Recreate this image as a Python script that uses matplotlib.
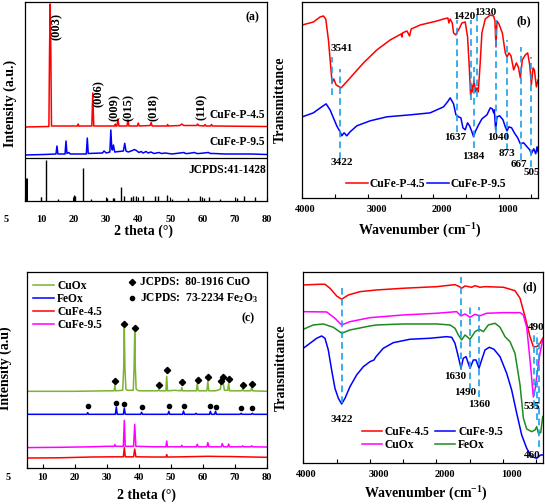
import matplotlib
matplotlib.use('Agg')
import matplotlib.pyplot as plt
from matplotlib.transforms import ScaledTranslation

# ---- panel (a): XRD of the two precursors + reference sticks
xrd45_x = [5, 12.4, 12.6, 12.8, 13.0, 13.2, 21.3, 21.5, 21.7, 25.7, 26.0, 26.3, 32.8, 33.0, 33.2,
           33.5, 33.8, 34.1, 36.6, 36.9, 37.2, 39.8, 40.1, 40.4, 43.8, 44.1, 44.4, 49.0, 49.2, 49.4,
           53.0, 53.6, 54.2, 58.2, 58.5, 58.8, 60.5, 60.8, 61.1, 62.5, 62.8, 63.1, 80]
xrd45_y = [74, 74.5, 150, 197, 150, 75, 75, 77, 75, 75, 108, 75, 75, 77, 75,
           75, 82, 75, 75, 81, 75, 75, 78, 75, 75.5, 78.5, 75, 75, 76.5, 75,
           75.5, 77, 75.5, 75.5, 77, 75.5, 75, 76.5, 75, 75, 76.5, 75, 74.5]
xrd95_x = [5, 11, 14.6, 14.9, 15.2, 17.4, 17.7, 18.0, 18.6, 19, 24.0, 24.3, 24.6, 29.0, 29.5,
           30.2, 31.3, 31.6, 31.9, 32.1, 32.4, 32.8, 35.5, 35.9, 36.3, 37.0, 38.3, 38.9, 39.5, 40.3,
           41.0, 41.6, 42.5, 43.2, 44.0, 45.0, 46.5, 47.3, 48.5, 50.5, 54.3, 54.7, 55.5, 57.5, 58.2,
           59, 61.8, 62.5, 63.5, 67, 70, 75, 80]
xrd95_y = [46, 46.5, 47, 55, 47, 47, 60, 47.5, 48.5, 47, 47, 63, 47.5, 48, 50,
           48, 49, 71, 52, 51, 56, 49, 50, 57.7, 50, 49, 50.5, 51.5, 50.5, 48.5,
           49.5, 48, 49.5, 48, 49, 47.5, 48.5, 47.5, 48, 47, 48.5, 47.5, 47.5, 48.5, 47.5,
           47.5, 48.5, 47.5, 47.5, 47, 47, 47, 46.5]
jcpds_pos = [5.3, 9.9, 11.5, 15.2, 20.1, 20.4, 22.9, 25.3, 30.3, 32.2, 32.7, 34.7, 35.7, 38.0, 38.6,
             39.3, 41.5, 45.3, 46.2, 49.1, 50.5, 55.5, 59.2, 60.6, 62.0, 65.3, 70.6, 73.0, 76.3]
jcpds_h = [23, 3.7, 41, 2, 6, 5, 33, 2, 3, 3, 3, 13.7, 5, 4, 5,
           4.5, 5, 5, 5, 6, 2, 3, 5, 3, 4, 2, 3, 5, 4]
hkl_text = ['(003)', '(006)', '(009)', '(015)', '(018)', '(110)']
hkl_x = [15.0, 27.8, 32.9, 37.2, 44.9, 59.9]
hkl_y = [175, 107, 94, 94, 94, 94]

# ---- panel (b): FTIR of the precursors
ir45_x = [4000, 3831, 3729, 3678, 3642, 3601, 3566, 3545, 3520, 3484, 3408, 3270, 3066, 2862, 2658,
          2490, 2480, 2470, 2403, 2362, 2337, 2200, 1944, 1843, 1777, 1761, 1741, 1710, 1690, 1654,
          1634, 1598, 1563, 1512, 1476, 1450, 1430, 1415, 1399, 1379, 1353, 1333, 1313, 1287, 1257,
          1206, 1129, 1078, 1058, 1042, 1027, 997, 945, 900, 874, 843, 813, 772, 731, 701,
          670, 640, 594, 558, 527, 502, 476, 456, 425, 400]
ir45_y = [173, 176, 181, 182, 179, 158, 131, 115, 119, 113, 110, 120, 135, 148, 158,
          164, 161, 165, 167, 162, 169, 173, 177, 179, 180, 175, 179, 175, 165, 163,
          166, 170, 175, 176, 161, 131, 103, 113, 106, 118, 106, 110, 106, 131, 165,
          179, 183, 182, 177, 151, 177, 174, 165, 145, 141, 145, 142, 128, 135, 131,
          120, 138, 143, 145, 133, 113, 130, 128, 111, 118]
ir95_x = [4000, 3831, 3704, 3637, 3576, 3525, 3474, 3423, 3398, 3362, 3321, 3270, 3168, 2964, 2710,
          2353, 2047, 1843, 1782, 1741, 1690, 1654, 1614, 1578, 1547, 1512, 1476, 1445, 1410, 1384,
          1353, 1308, 1257, 1180, 1129, 1098, 1078, 1068, 1047, 1027, 986, 935, 900, 874, 843,
          803, 762, 711, 670, 619, 568, 527, 502, 466, 435, 415, 400]
ir95_y = [81, 85, 91, 94, 88, 80, 72, 66, 62, 65, 62, 66, 72, 77, 81,
          83, 85, 91, 96, 100, 94, 83, 81, 80, 70, 68, 75, 72, 66, 61,
          67, 73, 79, 83, 90, 89, 85, 88, 68, 81, 82, 78, 71, 67, 71,
          70, 65, 60, 54, 55, 51, 48, 44, 49, 44, 51, 46]
b_marks = [3541, 3422, 1637, 1420, 1384, 1330, 1040, 873, 667, 505]
b_top = [141, 129, 178, 178, 131, 185, 178, 158, 151, 141]
b_bot = [103, 39, 66, 98, 50, 101, 65, 48, 38, 31]
b_lab_x = [3392, 3392, 1665, 1527, 1384, 1200, 1012, 874, 685, 497]
b_lab_y = [149, 35, 60, 181, 41, 186, 60, 44, 33, 25]

# ---- panel (c): XRD of the calcined oxides
cuox_x = [5, 20, 30, 32.3, 32.55, 32.8, 35.0, 35.3, 35.5, 35.7, 36.0, 36.5, 38.3, 38.55, 38.75,
          38.95, 39.2, 40, 46.0, 46.25, 46.5, 48.5, 48.75, 49.0, 51.3, 53.2, 53.45, 53.7, 58.0, 58.3,
          58.6, 61.3, 61.6, 61.9, 64.0, 65.5, 65.8, 66.1, 66.4, 66.8, 67.8, 68.1, 68.4, 72.2, 72.5,
          72.8, 75.0, 75.3, 75.6, 80]
cuox_y = [77, 77, 77.5, 77.5, 83, 77.5, 78, 100, 140, 100, 79, 78, 78, 100, 136,
          100, 79, 77.5, 77.5, 78.7, 77.5, 77.5, 92, 77.5, 78, 77.5, 80.7, 77.5, 77.5, 85,
          77.5, 77.5, 87, 77.5, 77.5, 79, 86, 84, 85, 78, 78, 85, 77.5, 77.5, 80,
          77.5, 77.5, 81, 77.5, 77]
feox_x = [5, 23.8, 24.06, 24.3, 32.7, 33.0, 33.3, 35.2, 35.5, 35.8, 40.6, 40.9, 41.2, 49.1, 49.4,
          49.7, 53.7, 54.0, 54.3, 57.6, 57.9, 58.2, 62.1, 62.4, 62.7, 63.7, 64.0, 64.3, 71.7, 72.0,
          72.3, 75.2, 75.5, 75.8, 80]
feox_y = [54, 54, 55.7, 54, 54, 61.3, 54, 54, 60.3, 54, 54, 56, 54, 54, 57,
          54, 54, 57.3, 54, 54, 55, 54, 54, 57, 54, 54, 57, 54, 54, 55,
          54, 54, 55, 54, 54]
cufe95c_x = [5, 15, 25, 30, 32.3, 32.55, 32.8, 35.2, 35.5, 35.8, 38.4, 38.75, 39.1, 45, 48.5,
             48.75, 49.0, 53.2, 53.45, 53.7, 58.0, 58.3, 58.6, 61.3, 61.6, 61.9, 65.8, 66.1, 66.5, 67.8,
             68.1, 68.4, 72.2, 72.5, 72.8, 75.0, 75.3, 75.6, 80]
cufe95c_y = [20.7, 21, 21.5, 22, 22, 23.7, 22, 22, 48, 22, 22, 44, 22, 21.5, 21.5,
             27.3, 21.5, 21.5, 23, 21.5, 21.5, 24, 21.5, 21.5, 25.7, 21.5, 21.5, 24.7, 21.5, 21.5,
             24.3, 21.5, 21.5, 22.5, 21.5, 21.5, 22.5, 21.5, 21.3]
cufe45c_x = [5, 15, 25, 32, 35.2, 35.5, 35.8, 38.4, 38.75, 39.1, 45, 48.5, 48.75, 49.0, 53.5,
             58.3, 61.6, 66, 68.1, 80]
cufe45c_y = [10.3, 10.5, 11.3, 11.5, 11.5, 20.7, 11.5, 11.5, 19.3, 11.5, 11.3, 11.3, 13.7, 11.3, 11.5,
             11.8, 12, 11.8, 11.8, 11]
cuo_mark_x = [32.6, 35.5, 38.85, 46.25, 48.96, 53.5, 58.4, 61.7, 65.6, 66.3, 68.1, 72.5, 75.3]
cuo_mark_y = [87, 144.7, 140.7, 83.7, 98, 86.3, 88, 91.3, 87, 91.3, 89.7, 83.7, 84.7]
fe_mark_x = [24.06, 33.0, 35.5, 40.9, 49.4, 54.0, 62.3, 64.0, 71.9, 75.5]
fe_mark_y = [62, 65.7, 64.7, 61.3, 62.7, 62.7, 62, 61.3, 60, 60]

# ---- panel (d): FTIR of the oxides
d45_x = [4000, 3749, 3674, 3599, 3498, 3423, 3323, 3147, 2897, 2496, 1994, 1719, 1653, 1619, 1568,
         1468, 1418, 1343, 1268, 992, 817, 741, 666, 591, 541, 491, 440, 400]
d45_y = [178, 178.7, 178.7, 174.7, 167, 163.7, 168, 171.3, 173, 174.7, 176.3, 178.3, 176.3, 174.7, 177,
         175.7, 177.3, 175.7, 176.3, 175.7, 172.3, 164.7, 146.3, 126.3, 116.3, 116.3, 119.7, 124.7]
dcuox_x = [4000, 3649, 3524, 3423, 3298, 2997, 2496, 1994, 1694, 1629, 1568, 1493, 1418, 1353, 1243,
           992, 741, 691, 641, 591, 541, 516, 491, 440, 400]
dcuox_y = [151.3, 151, 144.7, 138, 141.3, 145.3, 148, 149.7, 151.3, 147, 149, 145.7, 148.7, 147, 149.7,
           150.3, 150.3, 148, 136, 103, 66, 73, 86, 110, 123]
dfeox_x = [4000, 3849, 3699, 3549, 3423, 3298, 2997, 2897, 2496, 1994, 1794, 1719, 1669, 1619, 1568,
           1493, 1418, 1353, 1293, 1218, 1117, 1042, 967, 892, 817, 741, 691, 641, 566, 516,
           491, 465, 430, 400]
dfeox_y = [133.7, 138, 139, 135.7, 129.7, 133, 137, 138, 139, 139, 138, 134.7, 128, 123, 128,
           123.7, 131.3, 133.7, 131.3, 138, 139.7, 135.7, 126.3, 121.3, 109.7, 78, 45, 34, 31.3, 33,
           36.3, 29.7, 30.3, 46.3]
d95_x = [4000, 3899, 3799, 3724, 3674, 3624, 3574, 3524, 3473, 3423, 3373, 3298, 3198, 3097, 2997,
         2937, 2907, 2797, 2646, 2396, 2095, 1844, 1769, 1719, 1669, 1629, 1594, 1553, 1493, 1443,
         1403, 1358, 1318, 1268, 1203, 1133, 1042, 942, 867, 791, 716, 641, 566, 491, 430, 400]
d95_y = [114.7, 119.7, 124.7, 127, 124.7, 113, 93, 74.7, 64.7, 59, 64.7, 76.3, 88, 96.3, 101.3,
         103, 106.3, 114.7, 120.3, 123.7, 124.7, 126.3, 125.7, 119.7, 106.3, 94.7, 104.7, 106.3, 94.7, 103,
         103, 94.7, 103, 113, 115.7, 113.7, 106.3, 89.7, 73, 49.7, 28, 14.7, 6.3, 4.7, 8, 8]
d_marks = [3422, 1630, 1490, 1360, 535, 490, 460]
d_top = [174.7, 186.3, 156.3, 156.3, 128, 129.7, 123]
d_bot = [59.7, 93, 73, 66.3, 56.3, 43, 16.3]
d_lab_text = ['3422', '1630', '1490', '1360', '535', '490', '460']
d_lab_x = [3423, 1719, 1568, 1353, 566, 500, 556]
d_lab_y = [43, 86, 70, 58, 56, 135, 7]

plt.rcParams['font.family'] = ['Liberation Serif', 'DejaVu Serif']
plt.rcParams['font.weight'] = 'bold'
plt.rcParams['axes.labelweight'] = 'bold'
plt.rcParams['mathtext.fontset'] = 'custom'
plt.rcParams['mathtext.rm'] = 'Liberation Serif:bold'
plt.rcParams['mathtext.it'] = 'Liberation Serif:bold'
plt.rcParams['mathtext.bf'] = 'Liberation Serif:bold'
plt.rcParams['axes.linewidth'] = 0.9

RED, BLUE, MAG = '#ff0000', '#0000ff', '#ff00ff'
OLIVE, GREEN, DASH = '#7cb32f', '#1f8a1f', '#1a9fe8'
LW = 1.1
LEG = {'family': 'Liberation Serif', 'weight': 'bold', 'size': 8.3}

fig = plt.figure(figsize=(5.45, 5.04), dpi=100)


def shift(ax, offsets):
    # move individual tick labels sideways by a few pixels, like the original
    for lab, dx in zip(ax.get_xticklabels(), offsets):
        lab.set_transform(lab.get_transform() + ScaledTranslation(dx / 100, 0, fig.dpi_scale_trans))


def xrd_axes(ax, pad):
    ax.set_xlim(5, 80)
    ax.set_xticks([5, 10, 20, 30, 40, 50, 60, 70, 80], ['5', '10', '20', '30', '40', '50', '60', '70', '80'])
    ax.tick_params(axis='x', direction='in', length=3, width=0.8, labelsize=7.5, pad=pad)
    ax.set_yticks([])
    ax.set_xlabel('2 theta (°)', fontsize=10)
    shift(ax, [-19, 0, 0, 0, 0, 0, 0, 0, 0])


def ir_axes(ax, pad):
    ax.set_xlim(4000, 400)
    ax.set_xticks([4000, 3000, 2000, 1000], ['4000', '3000', '2000', '1000'])
    ax.set_xticks([3500, 2500, 1500, 500], minor=True)
    ax.tick_params(axis='x', which='both', direction='in', length=3, width=0.8, labelsize=7.5, pad=pad)
    ax.set_yticks([])
    ax.set_xlabel('Wavenumber (cm$^{-1}$)', fontsize=10)
    ax.set_ylabel('Transmittance', fontsize=10)
    shift(ax, [3, 9, 9, 9])


# (a)
ax = fig.add_axes([0.0459, 0.6012, 0.4440, 0.3948])
ax.plot(xrd45_x, xrd45_y, color=RED, lw=LW)
ax.plot(xrd95_x, xrd95_y, color=BLUE, lw=LW)
ax.vlines(jcpds_pos, 0, jcpds_h, color='black', lw=[2.2] + [1.0] * (len(jcpds_pos) - 1))
ax.axhline(43, color='black', lw=0.9)
ax.set_ylim(0, 199)
xrd_axes(ax, 10)
ax.set_ylabel('Intensity (a.u.)', fontsize=10)
ax.yaxis.set_label_coords(-0.033, 0.49)
ax.xaxis.set_label_coords(0.49, -0.12)
for t, x, y in zip(hkl_text, hkl_x, hkl_y):
    ax.text(x, y, t, rotation=90, ha='center', va='center', fontsize=9)
ax.text(79.4, 86, 'CuFe-P-4.5', ha='right', va='center', fontsize=8.3)
ax.text(79.4, 59, 'CuFe-P-9.5', ha='right', va='center', fontsize=8.3)
ax.text(79.6, 31, 'JCPDS:41-1428', ha='right', va='center', fontsize=8.3)
ax.text(75.4, 184, '(a)', ha='center', va='center', fontsize=8.5)

# (b)
ax = fig.add_axes([0.5547, 0.6077, 0.4325, 0.3883])
l1, = ax.plot(ir45_x, ir45_y, color=RED, lw=LW)
l2, = ax.plot(ir95_x, ir95_y, color=BLUE, lw=LW)
ax.vlines(b_marks, b_bot, b_top, color=DASH, lw=1.2, linestyles=(0, (4, 2.5)))
for t, x, y in zip(b_marks, b_lab_x, b_lab_y):
    ax.text(x, y, str(t), ha='center', va='center', fontsize=8)
ax.text(613, 176.5, '(b)', ha='center', va='center', fontsize=8.5)
ax.set_ylim(0, 196)
ir_axes(ax, 5)
ax.yaxis.set_label_coords(-0.065, 0.5)
ax.xaxis.set_label_coords(0.5, -0.124)
ax.legend([l1, l2], ['CuFe-P-4.5', 'CuFe-P-9.5'], loc='lower left', bbox_to_anchor=(0.185, 0.04),
          ncol=2, frameon=False, prop=LEG, handlelength=1.9, handletextpad=0.15, columnspacing=0.15,
          borderpad=0, borderaxespad=0)

# (c)
ax = fig.add_axes([0.0490, 0.0708, 0.4404, 0.3901])
h1, = ax.plot(cuox_x, cuox_y, color=OLIVE, lw=LW)
h2, = ax.plot(feox_x, feox_y, color=BLUE, lw=LW)
h3, = ax.plot(cufe45c_x, cufe45c_y, color=RED, lw=LW)
h4, = ax.plot(cufe95c_x, cufe95c_y, color=MAG, lw=LW)
ax.plot(cuo_mark_x, cuo_mark_y, 'D', color='black', ms=3.2, ls='none')
ax.plot(fe_mark_x, fe_mark_y, 'o', color='black', ms=3.0, ls='none')
ax.plot([37.8], [186], 'D', color='black', ms=3.2)
ax.plot([37.8], [170], 'o', color='black', ms=3.0)
ax.text(40.4, 186, 'JCPDS:  80-1916 CuO', ha='left', va='center', fontsize=8.3)
ax.text(40.4, 170, 'JCPDS:  73-2234 Fe$_2$O$_3$', ha='left', va='center', fontsize=8.3)
ax.text(74.2, 150, '(c)', ha='center', va='center', fontsize=8.5)
ax.set_ylim(0, 196.6)
xrd_axes(ax, 3.5)
ax.set_ylabel('Intensity (a.u)', fontsize=10)
ax.yaxis.set_label_coords(-0.061, 0.51)
ax.xaxis.set_label_coords(0.5, -0.104)
ax.legend([h1, h2, h3, h4], ['CuOx', 'FeOx', 'CuFe-4.5', 'CuFe-9.5'], loc='upper left',
          bbox_to_anchor=(0.026, 0.958), frameon=False, prop=LEG, handlelength=1.8,
          handletextpad=0.3, labelspacing=0.1, borderpad=0, borderaxespad=0)

# (d)
ax = fig.add_axes([0.5565, 0.0808, 0.4393, 0.3802])
g1, = ax.plot(d45_x, d45_y, color=RED, lw=LW)
g2, = ax.plot(dcuox_x, dcuox_y, color=MAG, lw=LW)
g3, = ax.plot(dfeox_x, dfeox_y, color=GREEN, lw=LW)
g4, = ax.plot(d95_x, d95_y, color=BLUE, lw=LW)
ax.vlines(d_marks, d_bot, d_top, color=DASH, lw=1.2, linestyles=(0, (4, 2.5)))
for t, x, y in zip(d_lab_text, d_lab_x, d_lab_y):
    ax.text(x, y, t, ha='center', va='center', fontsize=8)
ax.text(591, 175.7, '(d)', ha='center', va='center', fontsize=8.5)
ax.set_ylim(-0.3, 191.3)
ir_axes(ax, 4.8)
ax.yaxis.set_label_coords(-0.064, 0.5)
ax.xaxis.set_label_coords(0.51, -0.113)
ax.legend([g1, g2, g4, g3], ['CuFe-4.5', 'CuOx', 'CuFe-9.5', 'FeOx'], loc='upper left',
          bbox_to_anchor=(0.244, 0.195), ncol=2, frameon=False, prop=LEG, handlelength=1.75,
          handletextpad=0.25, columnspacing=0.5, labelspacing=0.12, borderpad=0, borderaxespad=0)

fig.savefig('out.png', dpi=100)
